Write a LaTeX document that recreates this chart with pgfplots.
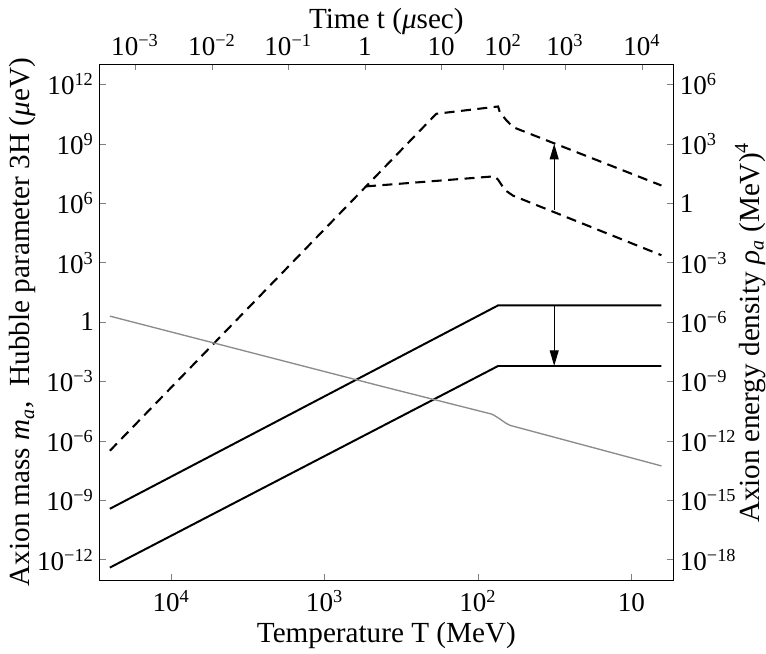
\documentclass[12pt,border=0pt]{standalone}
\usepackage{fontspec}
\setmainfont{Liberation Serif}
\usepackage{pgfplots}
\pgfplotsset{compat=1.18}
\usetikzlibrary{arrows.meta}

\definecolor{hgray}{HTML}{8C8C8C}
\newcommand{\su}[1]{\textsuperscript{\fontsize{8.8}{10}\selectfont #1}}
\newcommand{\lsu}[1]{\textsuperscript{\fontsize{9.6}{11}\selectfont #1}}
\newcommand{\lsb}[1]{\textsubscript{\fontsize{9.6}{11}\selectfont #1}}

\tikzset{
  dashline/.style={black, line width=1pt, dash pattern=on 4.8pt off 3.1pt},
  solidline/.style={black, line width=0.95pt},
  arr/.style={black, line width=0.55pt, -{Triangle[length=7.5pt,width=4.3pt]}},
}
\pgfplotsset{
  tick label style={font=\fontsize{13}{15}\selectfont},
  label style={font=\fontsize{14}{16}\selectfont},
}

\begin{document}
\begin{tikzpicture}

% main axis: temperature vs mass / Hubble rate
\begin{axis}[
  width=275pt, height=247.6pt, scale only axis,
  xmode=log, ymode=log, x dir=reverse,
  xmin=5.358, xmax=29240,
  ymin=9.12e-14, ymax=1.047e13,
  tick align=inside, major tick length=2.8pt,
  xminorticks=false, yminorticks=false,
  xtick={10,100,1000,10000},
  xticklabels={10,10\su{2},10\su{3},10\su{4}},
  ytick={1e-12,1e-9,1e-6,1e-3,1,1e3,1e6,1e9,1e12},
  yticklabels={10\su{−12},10\su{−9},10\su{−6},10\su{−3},1,10\su{3},10\su{6},10\su{9},10\su{12}},
  xtick pos=bottom, ytick pos=left,
  xticklabel style={anchor=base, yshift=-15pt},
  yticklabel shift=-1.4pt,
  xlabel={Temperature T (MeV)},
  ylabel={Axion mass \textit{m}\lsb{\textit{a}},~~Hubble parameter 3H (\textit{μ}eV)},
  xlabel style={at={(axis description cs:0.5,0)}, anchor=base, yshift=-29.7pt, inner sep=2.3pt},
  ylabel style={at={(axis description cs:-0.1224,0.5)}, anchor=base, inner sep=4.5pt},
]
% dashed, upper branch
\addplot[dashline] coordinates {
  (25119,3.162e-7) (537.0,7.079e6) (187.1,3.281e10) (73.96,7.674e10)
  (72.11,3.981e10) (65.16,1.514e10) (59.02,6.918e9) (6.368,7.852e6)
};
% dashed, lower branch
\addplot[dashline] coordinates {
  (537.0,7.079e6) (77.80,2.291e7) (73.96,1.549e7) (66.83,4.677e6)
  (59.02,2.399e6) (6.368,2.360e3)
};
% solid lines
\addplot[solidline] coordinates {(25119,3.715e-10) (73.96,6.918) (6.368,6.918)};
\addplot[solidline] coordinates {(25119,3.981e-13) (73.96,6.026e-3) (6.368,6.026e-3)};
% grey line
\addplot[hgray, line width=0.65pt] coordinates {
  (25119,1.986) (408.3,5.26e-4) (81.66,2.259e-5) (77.80,1.862e-5)
  (72.44,1.318e-5) (66.07,7.943e-6) (61.66,6.026e-6) (6.368,5.420e-8)
};
% arrows
\addplot[arr] coordinates {(31.85,4.786e5) (31.85,1.0e9)};
\addplot[arr] coordinates {(31.85,6.2) (31.85,6.1e-3)};
\end{axis}

% top axis: time
\begin{axis}[
  width=275pt, height=247.6pt, scale only axis,
  xmode=log, x dir=reverse,
  xmin=5.358, xmax=29240, ymin=0, ymax=1,
  tick align=inside, major tick length=2.8pt,
  xminorticks=false,
  axis x line*=top, axis y line=none,
  xtick={17220,5420,1726,545.8,173.8,68.55,27.10,8.531},
  xticklabels={10\su{−3},10\su{−2},10\su{−1},1,10,10\su{2},10\su{3},10\su{4}},
  xticklabel style={anchor=base, yshift=4.2pt},
  xlabel={Time t (\textit{μ}sec)},
  xlabel style={at={(axis description cs:0.5,1)}, anchor=base, yshift=16.9pt, inner sep=4.2pt},
]
\end{axis}

% right axis: energy density
\begin{axis}[
  width=275pt, height=247.6pt, scale only axis,
  xmode=log, ymode=log, x dir=reverse,
  xmin=5.358, xmax=29240,
  ymin=9.12e-20, ymax=1.047e7,
  tick align=inside, major tick length=2.8pt,
  yminorticks=false,
  axis y line*=right, axis x line=none,
  ytick={1e-18,1e-15,1e-12,1e-9,1e-6,1e-3,1,1e3,1e6},
  yticklabels={10\su{−18},10\su{−15},10\su{−12},10\su{−9},10\su{−6},10\su{−3},1,10\su{3},10\su{6}},
  yticklabel shift=-0.9pt,
  ylabel={Axion energy density \textit{ρ}\lsb{\textit{a}} (MeV)\lsu{4}},
  ylabel style={at={(axis description cs:1.1503,0.48)}, anchor=base, inner sep=0.3pt},
]
\end{axis}

\end{tikzpicture}
\end{document}
